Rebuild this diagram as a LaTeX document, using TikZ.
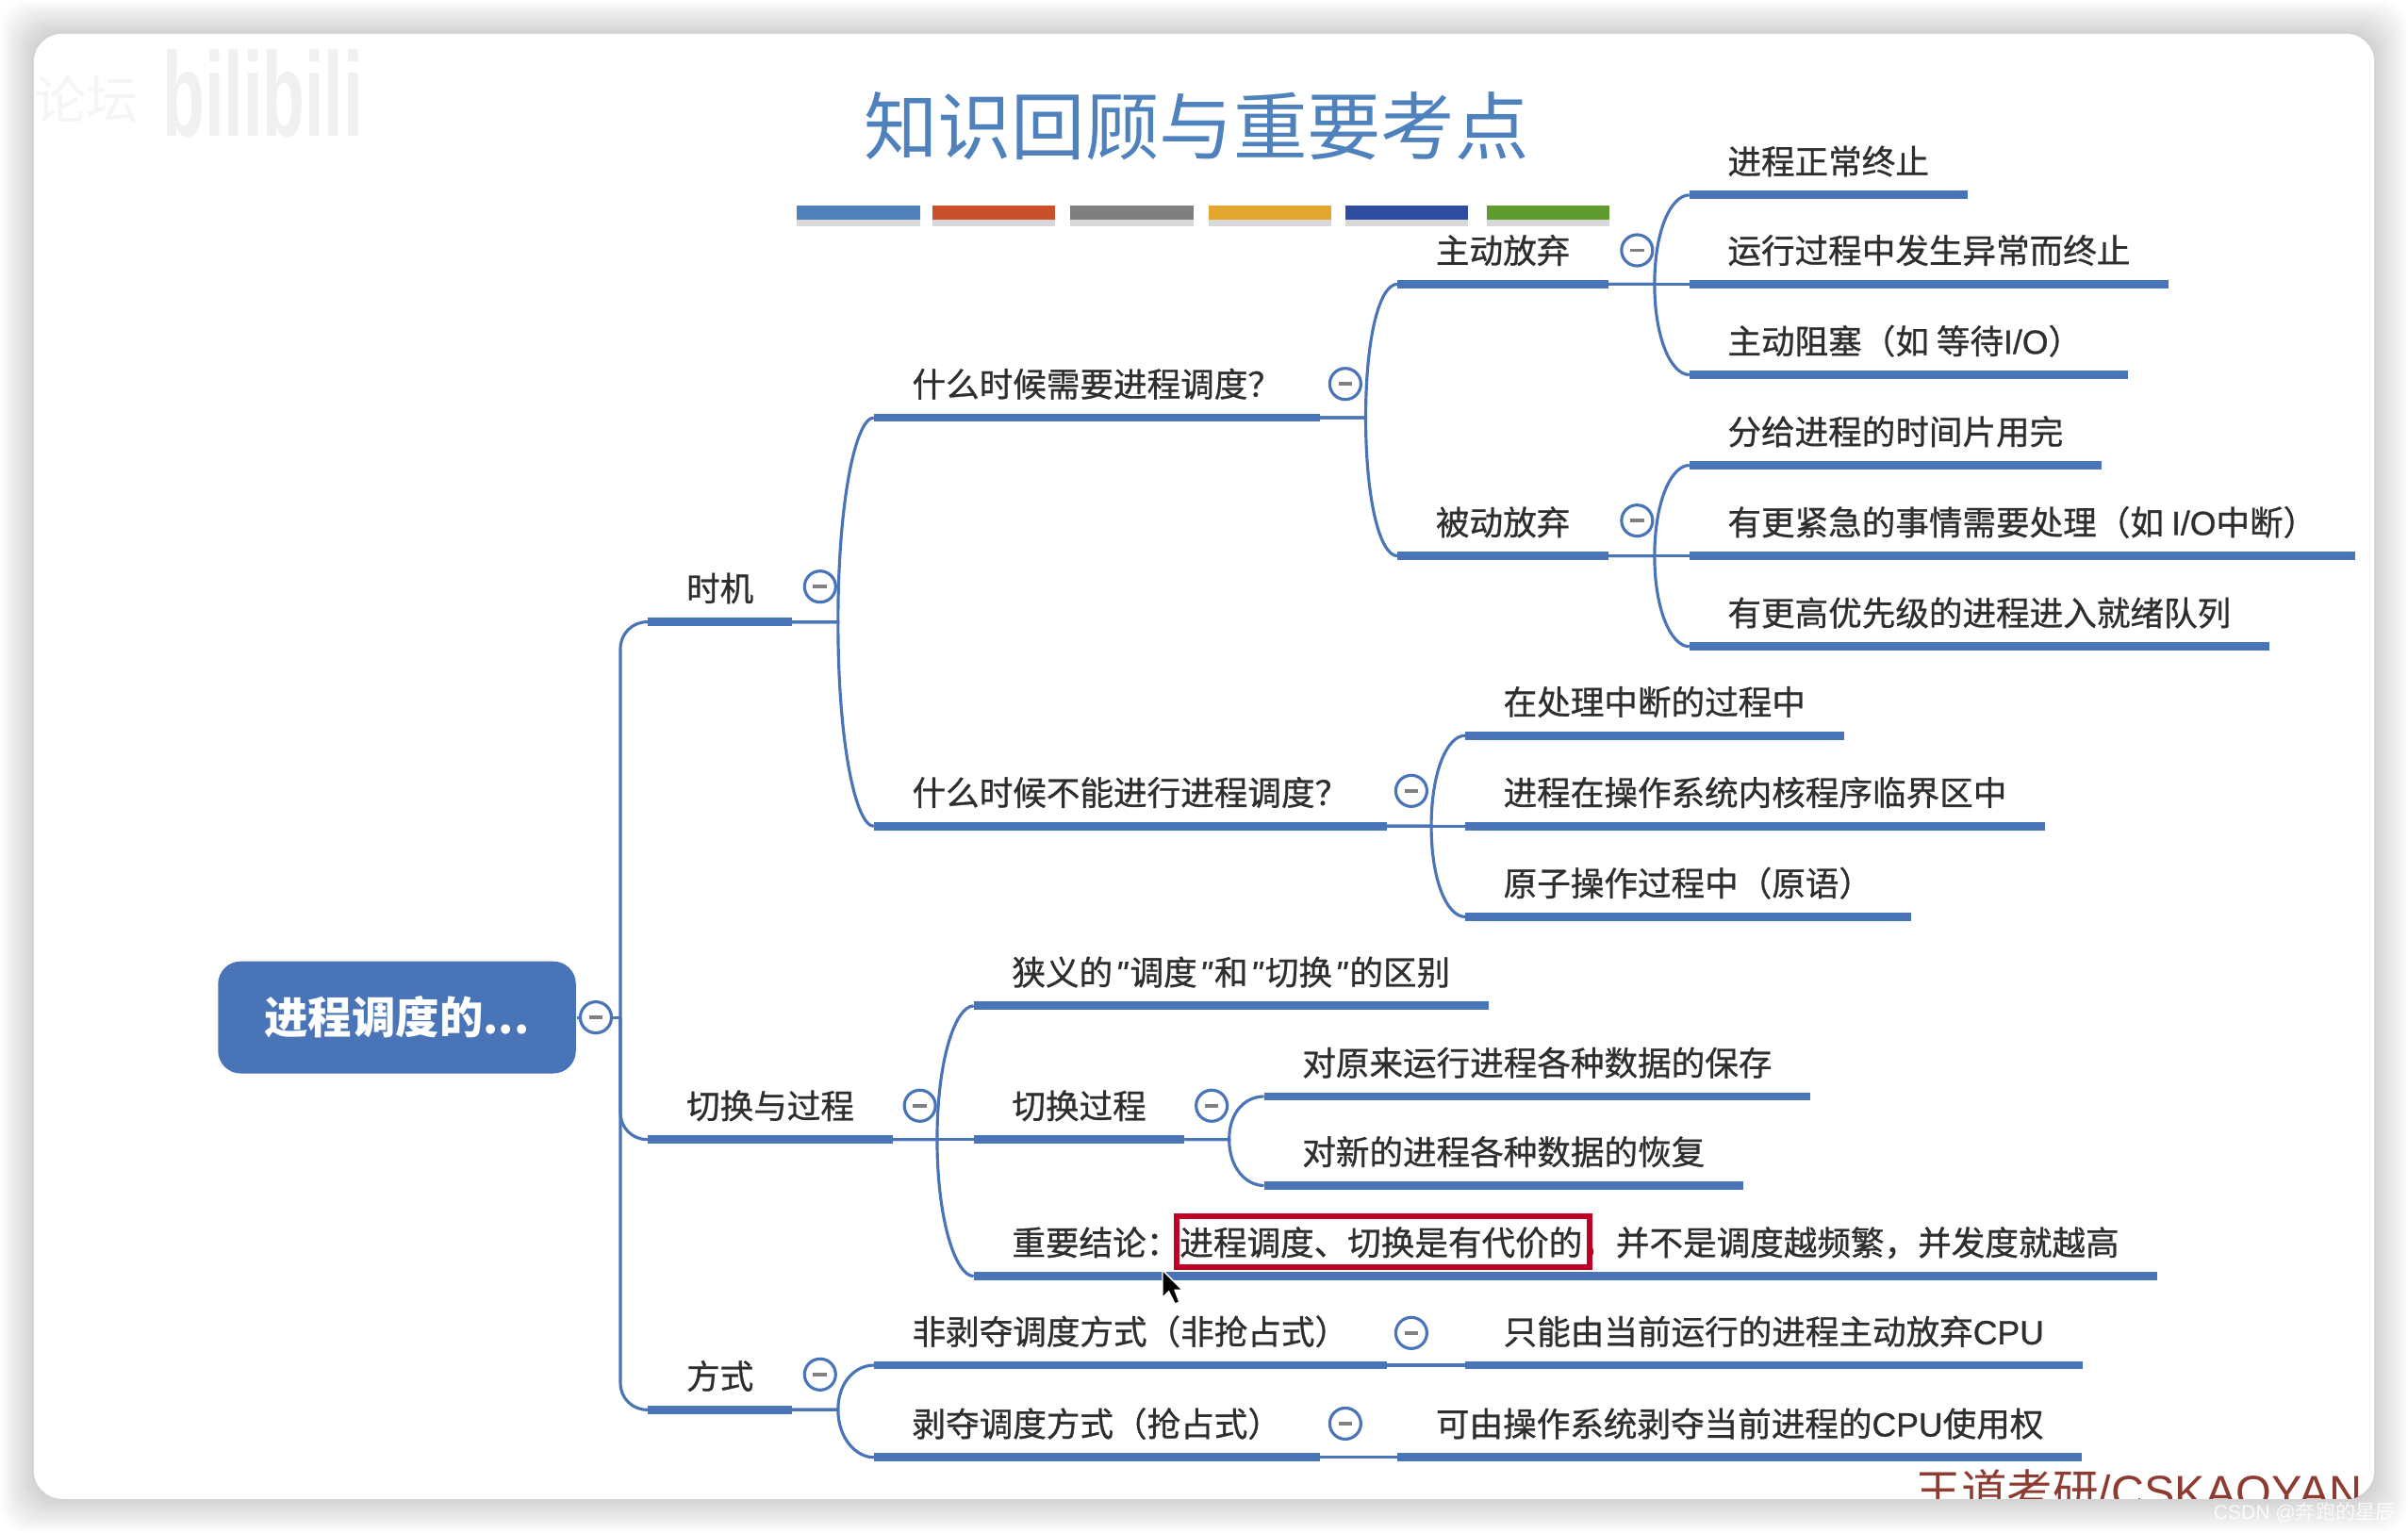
\documentclass[tikz,border=0pt]{standalone}
\usepackage{fontspec}
\setmainfont{Noto Sans CJK SC}
\newfontfamily\topicfont{Noto Sans CJK SC}[FakeBold=0.8]
\newfontfamily\latinfont{Liberation Sans}
\newfontfamily\topiclatin{Liberation Sans}[FakeBold=0.8]
\usetikzlibrary{shadows}
\definecolor{mapblue}{HTML}{4A74B8}
\definecolor{titleblue}{HTML}{4F81BD}
\definecolor{inkgray}{HTML}{2E2E2E}
\definecolor{boxred}{HTML}{C00024}
\definecolor{footred}{HTML}{8E3B32}
\definecolor{barorange}{HTML}{C8502A}
\definecolor{bargray}{HTML}{7F7F7F}
\definecolor{baramber}{HTML}{E3A72F}
\definecolor{bardark}{HTML}{2E4DA0}
\definecolor{bargreen}{HTML}{5E9C30}
\tikzset{
  topic/.style={anchor=south west, inner xsep=0.4cm, inner ysep=0pt, text height=0.42cm, text depth=0.215cm,
    text=inkgray, font=\topicfont\fontsize{10.12}{12}\selectfont,
    append after command={\pgfextra{\draw[draw=mapblue, line width=2.5pt]
      (\tikzlastnode.south west) -- (\tikzlastnode.south east);}}},
  link/.style={draw=mapblue, line width=0.9pt},
  bendup/.style={out=90, in=180, out distance=#1, in distance=0.19cm},
  benddown/.style={out=-90, in=180, out distance=#1, in distance=0.19cm},
  collapse/.style={circle, draw=mapblue, fill=white, line width=0.9pt, inner sep=0pt, minimum size=0.33cm,
    path picture={\draw[gray, line width=1pt] (path picture bounding box.center) +(-4.5,0) -- +(4.5,0);}},
}
\begin{document}
\begin{tikzpicture}[x=0.016288cm,y=-0.016288cm]
  \useasboundingbox (0,0) rectangle (1568,998.2);
  % window
  \foreach \i in {1,...,22}
    \fill[black, opacity=0.009, rounded corners=0.3cm] (22-\i,22-\i) rectangle (1546+\i,976+\i);
  \fill[white, rounded corners=0.3cm] (22,22) rectangle (1546,976);
  \node[white, opacity=0.8, font=\fontsize{6}{7}\selectfont, anchor=west, inner sep=0pt] (csdn) at (1441,985) {{\latinfont CSDN @}奔跑的星辰};
  \begin{scope}
    \clip[rounded corners=0.3cm] (22,22) rectangle (1546,976);
    \node[gray!8, font=\fontsize{15.7}{17}\selectfont] (luntan) at (56,65) {论坛};
    \node[gray!12, font=\latinfont\bfseries\fontsize{36}{38}\selectfont, xscale=0.58, transform shape] (bili) at (171,61) {bilibili};
    \node[footred, font=\fontsize{13.8}{16}\selectfont, anchor=base west, inner sep=0pt] (foot) at (1247,982) {王道考研{\latinfont /CSKAOYAN}};
  \end{scope}
  % title and colour bars
  \node[titleblue, font=\fontsize{22.3}{26}\selectfont] (title) at (779,82) {知识回顾与重要考点};
  \foreach \x/\c in {519/titleblue,607/barorange,697/bargray,787/baramber,876/bardark,968/bargreen}
    \fill[\c, drop shadow={shadow xshift=0pt, shadow yshift=-2pt, opacity=0.3}] (\x,134) rectangle +(80,9);
  % root
  \node[fill=mapblue, rounded corners=0.24cm, minimum width=233*0.016288cm, minimum height=73*0.016288cm, inner sep=0pt,
    text=white, font=\fontsize{13.2}{16}\selectfont\bfseries] (root) at (258.5,662.5) {进程调度的...};
  \coordinate (trunk) at (404,662.5);
  % first level
  \node[topic] (shiji) at (422,405) {时机};
  \node[topic] (qiehuan) at (422,742) {切换与过程};
  \node[topic] (fangshi) at (422,918) {方式};
  % when
  \node[topic] (xuyao) at (569,272) {什么时候需要进程调度？};
  \node[topic] (buneng) at (569,538) {什么时候不能进行进程调度？};
  \node[topic] (zhudong) at (910,185) {主动放弃};
  \node[topic] (beidong) at (910,362) {被动放弃};
  \node[topic] (zd1) at (1100,127) {进程正常终止};
  \node[topic] (zd2) at (1100,185) {运行过程中发生异常而终止};
  \node[topic] (zd3) at (1100,244) {主动阻塞（如 等待{\topiclatin I/O}）\kern0.24em};
  \node[topic] (bd1) at (1100,303) {分给进程的时间片用完};
  \node[topic] (bd2) at (1100,362) {有更紧急的事情需要处理（如 {\topiclatin I/O}中断）};
  \node[topic] (bd3) at (1100,421) {有更高优先级的进程进入就绪队列};
  \node[topic] (bn1) at (954,479) {在处理中断的过程中};
  \node[topic] (bn2) at (954,538) {进程在操作系统内核程序临界区中};
  \node[topic] (bn3) at (954,597) {原子操作过程中（原语）};
  % switching
  \node[topic] (xiayi) at (634,655) {狭义的{\topiclatin\itshape\hspace{0.08em}"\hspace{0.08em}}调度{\topiclatin\itshape\hspace{0.08em}"\hspace{0.08em}}和{\topiclatin\itshape\hspace{0.08em}"\hspace{0.08em}}切换{\topiclatin\itshape\hspace{0.08em}"\hspace{0.08em}}的区别};
  \node[topic] (guocheng) at (634,742) {切换过程};
  \node[topic] (gc1) at (823,714) {对原来运行进程各种数据的保存};
  \node[topic] (gc2) at (823,772) {对新的进程各种数据的恢复};
  \node[topic] (jielun) at (634,831) {重要结论：进程调度、切换是有代价的，并不是调度越频繁，并发度就越高};
  \node[draw=boxred, line width=1.7pt, inner sep=0pt, minimum width=269*0.016288cm, minimum height=33*0.016288cm] (redbox) at (900.5,808.5) {};
  % ways
  \node[topic] (feibo) at (569,889) {非剥夺调度方式（非抢占式）};
  \node[topic] (bo) at (569,949) {剥夺调度方式（抢占式）};
  \node[topic] (fb1) at (954,889) {只能由当前运行的进程主动放弃{\topiclatin CPU}};
  \node[topic] (bo1) at (910,949) {可由操作系统剥夺当前进程的{\topiclatin CPU}使用权};
  % connectors
  \draw[link] (root.east) -- (trunk);
  \draw[link, rounded corners=0.28cm] (trunk) |- (shiji.south west);
  \draw[link, rounded corners=0.28cm] (trunk) |- (qiehuan.south west);
  \draw[link, rounded corners=0.28cm] (trunk) |- (fangshi.south west);
  \draw[link] (shiji.south east) -- ++(30,0) to[bendup=1.3cm] (xuyao.south west);
  \draw[link] (shiji.south east) -- ++(30,0) to[benddown=1.3cm] (buneng.south west);
  \draw[link] (xuyao.south east) -- ++(30,0) to[bendup=0.86cm] (zhudong.south west);
  \draw[link] (xuyao.south east) -- ++(30,0) to[benddown=0.86cm] (beidong.south west);
  \draw[link] (zhudong.south east) -- ++(30,0) to[bendup=0.58cm] (zd1.south west);
  \draw[link] (zhudong.south east) -- (zd2.south west);
  \draw[link] (zhudong.south east) -- ++(30,0) to[benddown=0.58cm] (zd3.south west);
  \draw[link] (beidong.south east) -- ++(30,0) to[bendup=0.58cm] (bd1.south west);
  \draw[link] (beidong.south east) -- (bd2.south west);
  \draw[link] (beidong.south east) -- ++(30,0) to[benddown=0.58cm] (bd3.south west);
  \draw[link] (buneng.south east) -- ++(29,0) to[bendup=0.58cm] (bn1.south west);
  \draw[link] (buneng.south east) -- (bn2.south west);
  \draw[link] (buneng.south east) -- ++(29,0) to[benddown=0.58cm] (bn3.south west);
  \draw[link] (qiehuan.south east) -- ++(29,0) to[bendup=0.86cm] (xiayi.south west);
  \draw[link] (qiehuan.south east) -- (guocheng.south west);
  \draw[link] (qiehuan.south east) -- ++(29,0) to[benddown=0.86cm] (jielun.south west);
  \draw[link] (guocheng.south east) -- ++(29,0) to[bendup=0.3cm] (gc1.south west);
  \draw[link] (guocheng.south east) -- ++(29,0) to[benddown=0.3cm] (gc2.south west);
  \draw[link] (fangshi.south east) -- ++(30,0) to[bendup=0.3cm] (feibo.south west);
  \draw[link] (fangshi.south east) -- ++(30,0) to[benddown=0.3cm] (bo.south west);
  \draw[link] (feibo.south east) -- (fb1.south west);
  \draw[link] (bo.south east) -- (bo1.south west);
  % collapse buttons
  \node[collapse] (croot) at (388,662.5) {};
  \node[collapse] (cshiji) at (534,382) {};
  \node[collapse] (cxuyao) at (876,250) {};
  \node[collapse] (czhudong) at (1066,163) {};
  \node[collapse] (cbeidong) at (1066,339) {};
  \node[collapse] (cbuneng) at (919,515) {};
  \node[collapse] (cqiehuan) at (599,720) {};
  \node[collapse] (cguocheng) at (789,720) {};
  \node[collapse] (cfangshi) at (534,895) {};
  \node[collapse] (cfeibo) at (919,868) {};
  \node[collapse] (cbo) at (876,927) {};
  % mouse pointer
  \fill[black, draw=white, line width=0.4pt] (757,827) -- (757,845) -- (761,841) -- (765,849) -- (768,848) -- (765,840) -- (770,840) -- cycle;
\end{tikzpicture}
\end{document}
